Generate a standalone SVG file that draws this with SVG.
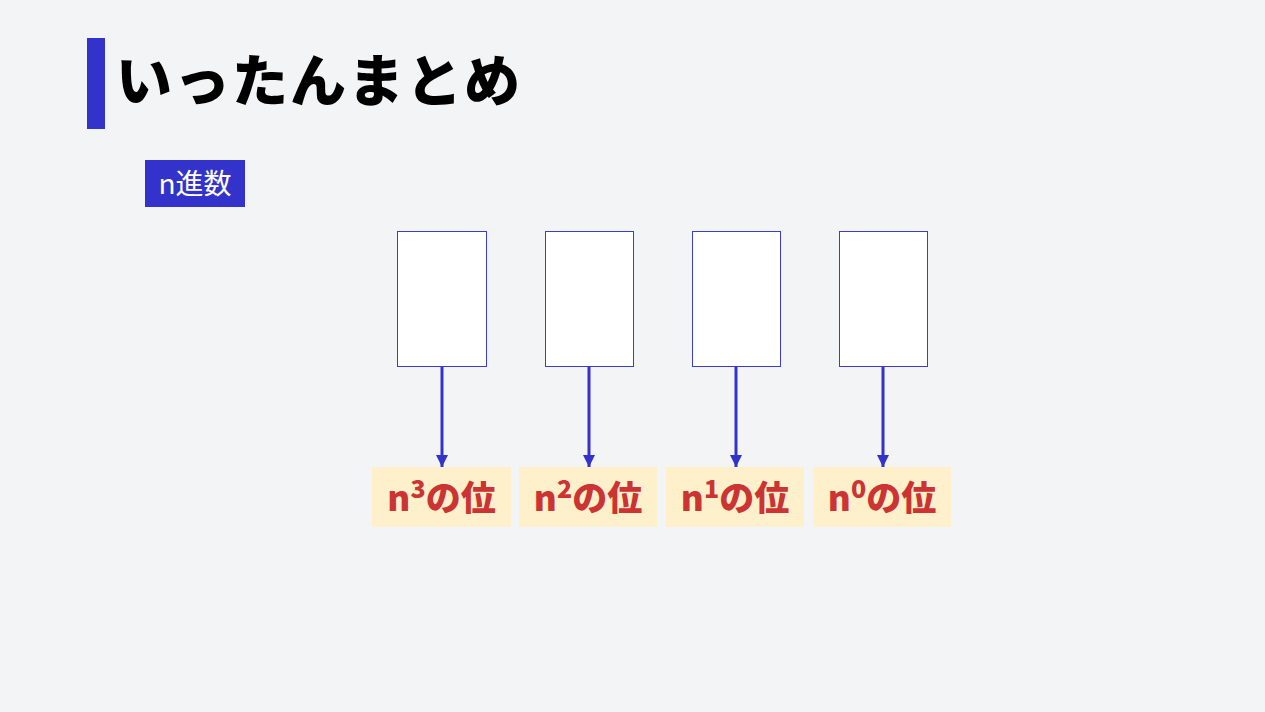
<svg xmlns="http://www.w3.org/2000/svg" width="1265" height="712" viewBox="0 0 1265 712">
<defs>
<style>
.box{fill:#ffffff;stroke:#3b3bd6;stroke-width:1}
.lbl{fill:#fff0cc}
.lt{font-family:"Noto Sans CJK JP","Noto Sans",sans-serif;font-weight:900;font-size:35px;fill:#cc3333;text-anchor:middle}
.sup{font-size:25px}
.conn{stroke:#3333cc;stroke-width:3;fill:none}
</style>
<marker id="ah" markerWidth="12" markerHeight="12" viewBox="0 0 12 12" refX="12" refY="6" orient="auto" markerUnits="userSpaceOnUse">
<path d="M0,0 L12,6 L0,12 Z" fill="#3333cc"/>
</marker>
</defs>
<rect x="0" y="0" width="1265" height="712" fill="#f3f4f6"/>
<g id="title">
<rect x="87" y="38" width="18" height="91" fill="#3333cc"/>
<text x="116" y="101" font-family="Noto Sans CJK JP,sans-serif" font-weight="900" font-size="56" letter-spacing="2" fill="#000000">いったんまとめ</text>
</g>
<g id="tag">
<rect x="145" y="160" width="100" height="47" fill="#3333cc"/>
<text x="195" y="194" font-family="Noto Sans CJK JP,sans-serif" font-weight="normal" font-size="28" fill="#ffffff" text-anchor="middle">n進数</text>
</g>
<g id="box3"><rect class="box" x="397.5" y="231.5" width="89" height="135"/></g>
<g id="box2"><rect class="box" x="545.5" y="231.5" width="88" height="135"/></g>
<g id="box1"><rect class="box" x="692.5" y="231.5" width="88" height="135"/></g>
<g id="box0"><rect class="box" x="839.5" y="231.5" width="88" height="135"/></g>
<g id="connectors">
<line class="conn" x1="442" y1="367" x2="442" y2="467" marker-end="url(#ah)"/>
<line class="conn" x1="589" y1="367" x2="589" y2="467" marker-end="url(#ah)"/>
<line class="conn" x1="736" y1="367" x2="736" y2="467" marker-end="url(#ah)"/>
<line class="conn" x1="883" y1="367" x2="883" y2="467" marker-end="url(#ah)"/>
</g>
<g id="label3"><rect class="lbl" x="372" y="467" width="139" height="60"/><text class="lt" x="441.5" y="511">n<tspan class="sup" dy="-13">3</tspan><tspan dy="13">の位</tspan></text></g>
<g id="label2"><rect class="lbl" x="519" y="467" width="138" height="60"/><text class="lt" x="588" y="511">n<tspan class="sup" dy="-13">2</tspan><tspan dy="13">の位</tspan></text></g>
<g id="label1"><rect class="lbl" x="666" y="467" width="138" height="60"/><text class="lt" x="735" y="511">n<tspan class="sup" dy="-13">1</tspan><tspan dy="13">の位</tspan></text></g>
<g id="label0"><rect class="lbl" x="813" y="467" width="138" height="60"/><text class="lt" x="882" y="511">n<tspan class="sup" dy="-13">0</tspan><tspan dy="13">の位</tspan></text></g>
</svg>
